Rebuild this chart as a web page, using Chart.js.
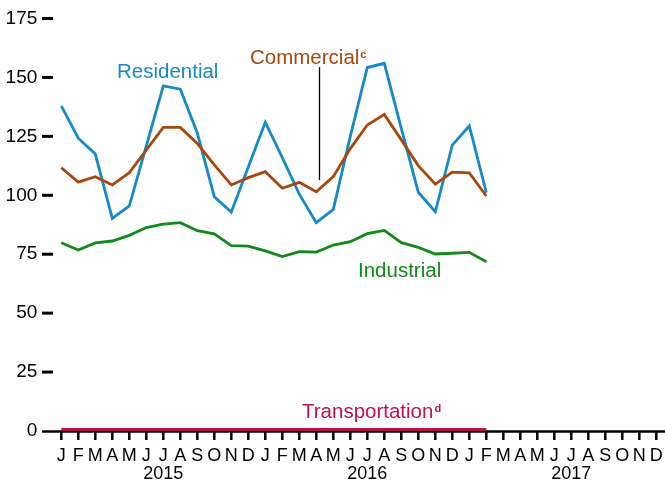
<!DOCTYPE html>
<html>
<head>
<meta charset="utf-8">
<script src="https://cdn.jsdelivr.net/npm/chart.js@4.4.1/dist/chart.umd.min.js"></script>
<style>
  html, body { margin: 0; padding: 0; background: #fff; }
  #wrap { width: 665px; height: 484px; position: relative; }
</style>
</head>
<body>
<div id="wrap"><canvas id="chart"></canvas></div>
<script>
// Données (jan 2015 - fév 2017)
const months = ['J', 'F', 'M', 'A', 'M', 'J', 'J', 'A', 'S', 'O', 'N', 'D'];
const years = ['2015', '2016', '2017'];
const yTicks = [0, 25, 50, 75, 100, 125, 150, 175];

const residential = [137.9, 124.2, 117.5, 90.2, 95.5, 121, 146.4, 145, 126.4, 99.4, 92.9, 112,
                     131, 116, 100.5, 88.4, 94, 125, 154.2, 156, 128.4, 101.3, 93, 121.3,
                     129.4, 101.1];
const commercial = [111.7, 105.6, 107.9, 104.4, 109.6, 119.2, 128.8, 128.8, 122, 112.9, 104.4, 107.5,
                    110, 103, 105.5, 101.5, 107.9, 119.8, 129.8, 134.3, 123.5, 112.6, 104.7, 109.8,
                    109.5, 99.7];
const industrial = [79.9, 76.8, 79.8, 80.6, 83, 86.3, 87.8, 88.4, 85, 83.6, 78.6, 78.4,
                    76.4, 74, 76.1, 75.9, 78.9, 80.3, 83.7, 85.1, 79.9, 77.9, 75.1, 75.4,
                    75.8, 71.8];
const transportation = [0.7, 0.7, 0.7, 0.7, 0.7, 0.7, 0.7, 0.7, 0.7, 0.7, 0.7, 0.7,
                        0.7, 0.7, 0.7, 0.7, 0.7, 0.7, 0.7, 0.7, 0.7, 0.7, 0.7, 0.7,
                        0.7, 0.7];

const categories = [];
years.forEach(y => months.forEach(m => categories.push(m)));

const COLORS = {
    residential: '#168ac8',
    commercial: '#a8460c',
    industrial: '#13891a',
    transportation: '#c80c4e'
};
const FONT = "'Liberation Sans', Arial, Helvetica, sans-serif";

// Axes, graduations et étiquettes dessinées à la main
const decorPlugin = {
    id: 'decor',
    beforeDatasetsDraw(chart) {
        const ctx = chart.ctx;
        const x = chart.scales.x, y = chart.scales.y;
        const y0 = y.getPixelForValue(0);
        ctx.save();
        ctx.strokeStyle = '#000';
        // tirets de l'axe Y
        ctx.lineWidth = 3;
        yTicks.forEach(v => {
            const py = y.getPixelForValue(v);
            if (v === 0) return;
            ctx.beginPath();
            ctx.moveTo(42, py);
            ctx.lineTo(53, py);
            ctx.stroke();
        });
        // axe X
        ctx.lineWidth = 2.5;
        ctx.beginPath();
        ctx.moveTo(42, y0 + 0.5);
        ctx.lineTo(665, y0 + 0.5);
        ctx.stroke();
        // graduations mensuelles
        ctx.lineWidth = 2.5;
        categories.forEach((c, i) => {
            const px = x.getPixelForValue(i);
            ctx.beginPath();
            ctx.moveTo(px, y0);
            ctx.lineTo(px, y0 + 9);
            ctx.stroke();
        });
        // trait de rappel "Commercial"
        ctx.lineWidth = 1.3;
        const lx = Math.round(x.getPixelForValue(15) + 3) + 0.5;
        ctx.beginPath();
        ctx.moveTo(lx, y.getPixelForValue(154.4));
        ctx.lineTo(lx, y.getPixelForValue(106.5));
        ctx.stroke();
        ctx.restore();
    },
    afterDatasetsDraw(chart) {
        const ctx = chart.ctx;
        ctx.save();
        ctx.textBaseline = 'alphabetic';
        ctx.textAlign = 'left';
        const label = (text, sup, px, py, color) => {
            ctx.fillStyle = color;
            ctx.font = '20.5px ' + FONT;
            ctx.fillText(text, px, py);
            if (sup) {
                const w = ctx.measureText(text).width;
                ctx.font = 'bold 11px ' + FONT;
                ctx.fillText(sup, px + w + 1, py - 6);
            }
        };
        label('Residential', '', 117, 77.5, COLORS.residential);
        label('Commercial', 'c', 250, 63.5, COLORS.commercial);
        label('Industrial', '', 358, 277, COLORS.industrial);
        label('Transportation', 'd', 302, 417.5, COLORS.transportation);
        ctx.restore();
    }
};

const line = (data, color) => ({
    data: data,
    borderColor: color,
    borderWidth: 2.8,
    pointRadius: 0,
    tension: 0,
    fill: false
});

const noPad = s => { s.paddingTop = 0; s.paddingBottom = 0; s.paddingLeft = 0; s.paddingRight = 0; };

new Chart(document.getElementById('chart'), {
    type: 'line',
    data: {
        labels: categories,
        datasets: [
            line(transportation, COLORS.transportation),
            line(industrial, COLORS.industrial),
            line(commercial, COLORS.commercial),
            line(residential, COLORS.residential)
        ]
    },
    options: {
        responsive: true,
        maintainAspectRatio: false,
        animation: false,
        layout: { padding: { left: 5.3, right: 8.7, top: 18.5, bottom: 0 } },
        plugins: { legend: { display: false }, tooltip: { enabled: false } },
        scales: {
            x: {
                offset: false,
                grid: { display: false, drawTicks: false },
                border: { display: false },
                afterFit: s => { s.height = 53; noPad(s); },
                ticks: {
                    autoSkip: false,
                    maxRotation: 0,
                    padding: 16,
                    color: '#000',
                    font: { family: FONT, size: 18, lineHeight: 1 },
                    callback: function(v, i) {
                        const m = categories[i];
                        if (i % 12 === 6) return [m, years[Math.floor(i / 12)]];
                        return m;
                    }
                }
            },
            y: {
                min: 0,
                max: 175,
                grid: { display: false, drawTicks: false },
                border: { display: false },
                afterFit: s => { s.width = 56; noPad(s); },
                ticks: {
                    stepSize: 25,
                    padding: 24,
                    color: '#000',
                    font: { family: FONT, size: 19 }
                }
            }
        }
    },
    plugins: [decorPlugin]
});
</script>
</body>
</html>
